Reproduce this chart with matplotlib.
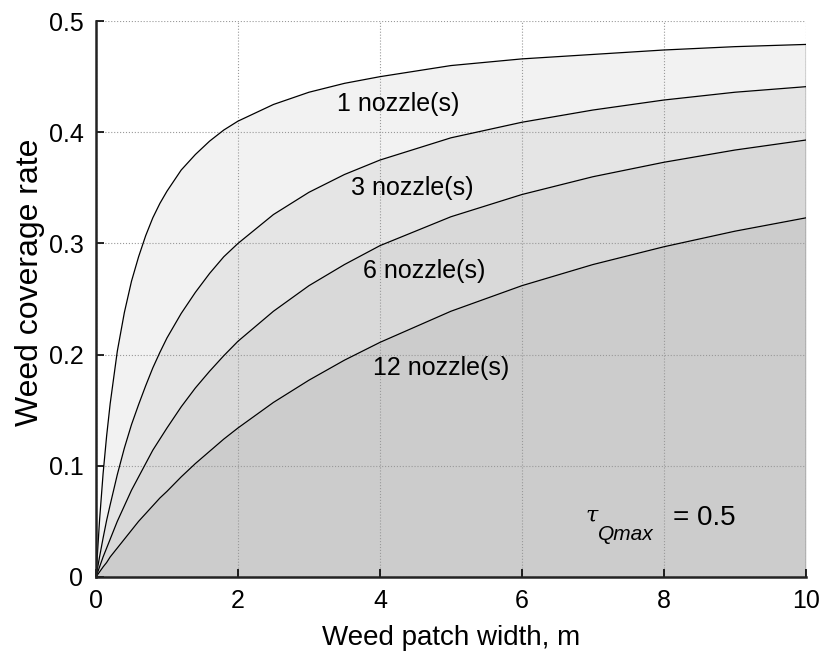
import numpy as np
import matplotlib
matplotlib.use('Agg')
import matplotlib.pyplot as plt
from matplotlib.ticker import FuncFormatter

plt.rcParams['font.family'] = ['Liberation Sans', 'DejaVu Sans']

# weed patch width, m
width = [0, 0.05, 0.1, 0.15, 0.2, 0.3, 0.4, 0.5, 0.6, 0.7, 0.8, 0.9, 1.0,
         1.2, 1.4, 1.6, 1.8, 2.0, 2.5, 3, 3.5, 4, 5, 6, 7, 8, 9, 10]

# weed coverage rate
cov_1 = [0, 0.051, 0.093, 0.127, 0.156, 0.203, 0.238, 0.266, 0.288, 0.307,
         0.323, 0.336, 0.347, 0.366, 0.380, 0.392, 0.402, 0.410, 0.425,
         0.436, 0.444, 0.450, 0.460, 0.466, 0.470, 0.474, 0.477, 0.479]
cov_3 = [0, 0.018, 0.035, 0.051, 0.065, 0.092, 0.116, 0.137, 0.155, 0.172,
         0.188, 0.202, 0.215, 0.237, 0.256, 0.273, 0.288, 0.300, 0.326,
         0.346, 0.362, 0.375, 0.395, 0.409, 0.420, 0.429, 0.436, 0.441]
cov_6 = [0, 0.009, 0.018, 0.026, 0.034, 0.050, 0.064, 0.078, 0.090, 0.102,
         0.114, 0.124, 0.134, 0.153, 0.170, 0.185, 0.199, 0.212, 0.239,
         0.262, 0.281, 0.298, 0.324, 0.344, 0.360, 0.373, 0.384, 0.393]
cov_12 = [0, 0.0045, 0.009, 0.013, 0.018, 0.026, 0.034, 0.042, 0.050, 0.057,
          0.064, 0.071, 0.077, 0.090, 0.102, 0.113, 0.124, 0.134, 0.157,
          0.177, 0.195, 0.211, 0.239, 0.262, 0.281, 0.297, 0.311, 0.323]

labels = ['1 nozzle(s)', '3 nozzle(s)', '6 nozzle(s)', '12 nozzle(s)']
label_pos = [(4.25, 0.419), (4.45, 0.3435), (4.63, 0.2686), (4.86, 0.1817)]
tau_qmax = 0.5

fig = plt.figure(figsize=(8.24, 6.59), dpi=100)
ax = fig.add_axes([0.1165, 0.1245, 0.8615, 0.8435])

x = np.array(width)
curves = [np.array(cov_1), np.array(cov_3), np.array(cov_6), np.array(cov_12)]
fills = ['#f2f2f2', '#e5e5e5', '#d9d9d9', '#cccccc']

for i, c in enumerate(curves):
    lower = curves[i + 1] if i + 1 < len(curves) else np.zeros_like(c)
    ax.fill_between(x, lower, c, color=fills[i], lw=0, zorder=1)

for c in curves:
    ax.plot(x, c, color='black', lw=0.9, zorder=3)
ax.plot([x[-1], x[-1]], [0, curves[0][-1]], color='black', lw=0.9, zorder=3)

for txt, (tx, ty) in zip(labels, label_pos):
    ax.text(tx, ty, txt, ha='center', va='baseline', fontsize=18, zorder=4)

# tau_Qmax annotation, built from pieces like the original
ax.text(6.89, 0.0495, '\u03c4', fontsize=16, style='italic', family='DejaVu Serif',
        ha='left', va='baseline', zorder=4)
ax.text(7.07, 0.033, 'Qmax', fontsize=15, style='italic', ha='left', va='baseline', zorder=4)
ax.text(8.13, 0.047, '= {}'.format(tau_qmax), fontsize=20, ha='left', va='baseline', zorder=4)

ax.set_xlim(0, 10)
ax.set_ylim(0, 0.5)
ax.set_xticks(np.arange(0, 11, 2))
ax.set_yticks(np.arange(0, 0.51, 0.1))
ax.yaxis.set_major_formatter(FuncFormatter(lambda v, p: '0' if abs(v) < 1e-9 else '{:.1f}'.format(v)))
ax.grid(True, ls=':', lw=0.8, color='#999999', zorder=2)
ax.set_axisbelow(False)

for s in ['top', 'right']:
    ax.spines[s].set_visible(False)
for s in ['left', 'bottom']:
    ax.spines[s].set_linewidth(1.8)
    ax.spines[s].set_color('#222222')
    ax.spines[s].set_zorder(5)

ax.tick_params(direction='in', length=6, width=1.2, labelsize=18)
ax.tick_params(axis='x', pad=9)
ax.tick_params(axis='y', pad=9)
ax.set_xlabel('Weed patch width, m', fontsize=20, labelpad=8)
ax.set_ylabel('Weed coverage rate', fontsize=23, labelpad=4)
ax.yaxis.set_label_coords(-0.072, 0.53)

fig.savefig('out.png', dpi=100)
